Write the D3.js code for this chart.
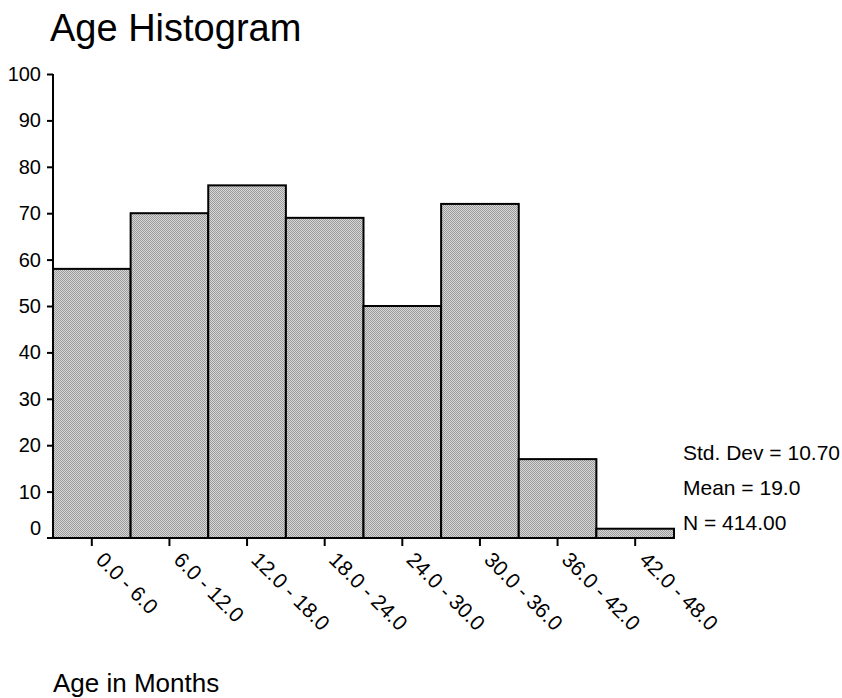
<!DOCTYPE html>
<html><head><meta charset="utf-8">
<script src="https://cdn.jsdelivr.net/npm/d3@7"></script>
<style>body{margin:0;background:#fff;} text{font-family:"Liberation Sans",Arial,sans-serif;fill:#000;}</style>
</head><body>
<svg id="c" width="842" height="698"></svg>
<script>
const categories = ["0.0 - 6.0","6.0 - 12.0","12.0 - 18.0","18.0 - 24.0","24.0 - 30.0","30.0 - 36.0","36.0 - 42.0","42.0 - 48.0"];
const counts = [58, 70, 76, 69, 50, 72, 17, 2];
const yTicks = [0,10,20,30,40,50,60,70,80,90,100];
const stats = ["Std. Dev = 10.70", "Mean = 19.0", "N = 414.00"];
const title = "Age Histogram";
const xTitle = "Age in Months";

const svg = d3.select("#c");
const mL = 53, mR = 674, mT = 74, mB = 538;

const defs = svg.append("defs");
const pat = defs.append("pattern").attr("id","dots").attr("width",2).attr("height",2).attr("patternUnits","userSpaceOnUse");
pat.append("rect").attr("width",2).attr("height",2).attr("fill","#d8d8d8");
pat.append("rect").attr("width",1).attr("height",1).attr("fill","#9a9a9a");
pat.append("rect").attr("x",1).attr("y",1).attr("width",1).attr("height",1).attr("fill","#9a9a9a");

const x = d3.scaleBand().domain(categories).range([mL, mR]).padding(0);
const y = d3.scaleLinear().domain([0,100]).range([mB, mT]);

svg.append("g").selectAll("rect").data(counts).join("rect")
  .attr("x",(d,i)=>x(categories[i]))
  .attr("y",d=>y(d))
  .attr("width",x.bandwidth())
  .attr("height",d=>y(0)-y(d))
  .attr("fill","url(#dots)")
  .attr("stroke","#000").attr("stroke-width",2);

// y axis
const ya = svg.append("g").attr("transform",`translate(${mL},0)`)
  .call(d3.axisLeft(y).tickValues(yTicks).tickSize(6).tickPadding(6));
ya.select(".domain").attr("stroke","#000").attr("stroke-width",2).attr("d",`M0,${mT}V${mB}`);
ya.selectAll(".tick line").attr("stroke","#000").attr("stroke-width",2);
ya.selectAll(".tick text").style("font-size","20px").style("font-family","Liberation Sans, Arial, sans-serif");
ya.selectAll(".tick").filter(d=>d===0).select("line").remove();
ya.selectAll(".tick").filter(d=>d===0).select("text").attr("dy","-0.2em");

// x axis
const xa = svg.append("g").attr("transform",`translate(0,${mB})`)
  .call(d3.axisBottom(x).tickSize(8).tickFormat(""));
xa.select(".domain").attr("stroke","#000").attr("stroke-width",2).attr("d",`M${mL-6},0H${mR}`);
xa.selectAll(".tick line").attr("stroke","#000").attr("stroke-width",2);

svg.append("g").selectAll("text").data(categories).join("text")
  .attr("transform",d=>`translate(${x(d)+x.bandwidth()/2+3},${mB+23}) rotate(45)`)
  .style("font-size","21px")
  .text(d=>d);

svg.append("g").selectAll("text").data(stats).join("text")
  .attr("x",683).attr("y",(d,i)=>460+i*35)
  .style("font-size","21px").text(d=>d);

svg.append("text").attr("x",50).attr("y",41).style("font-size","38px").text(title);
svg.append("text").attr("x",53).attr("y",692).style("font-size","26px").text(xTitle);
</script>
</body></html>
